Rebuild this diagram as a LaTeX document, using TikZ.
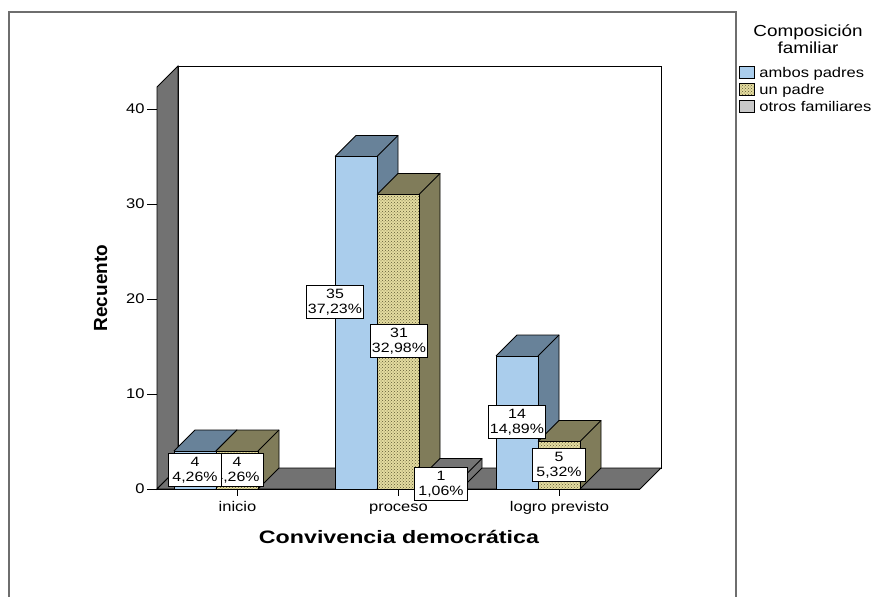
\documentclass[tikz,border=0pt]{standalone}
\usepackage{fontspec}
\setmainfont{Liberation Sans}
\newfontfamily\spss[FakeStretch=1.18]{Liberation Sans}
\newfontfamily\spsswide[FakeStretch=1.29]{Liberation Sans}
\usetikzlibrary{patterns}
\definecolor{ambosblue}{RGB}{170,205,236}
\definecolor{ambosdark}{RGB}{104,130,153}
\definecolor{unpale}{RGB}{228,220,160}
\definecolor{undots}{RGB}{96,90,52}
\definecolor{unolive}{RGB}{128,124,90}
\definecolor{otroslight}{RGB}{200,200,200}
\definecolor{otrosdark}{RGB}{116,116,116}
\definecolor{wallgray}{RGB}{114,114,114}
\definecolor{framegray}{RGB}{110,110,110}
\begin{document}
\begin{tikzpicture}
[x=1pt, y=-1pt, line width=0.9pt,
ambosfront/.style={fill=ambosblue},
ambostop/.style={fill=ambosdark},
unfront/.style={fill=unpale, postaction={pattern=crosshatch dots, pattern color=undots}},
untop/.style={fill=unolive},
otrosfront/.style={fill=otroslight},
otrostop/.style={fill=otrosdark},
wall/.style={fill=wallgray, draw=black},
ticklbl/.style={font=\spss\fontsize{14}{16}\selectfont, inner sep=1pt},
catlbl/.style={font=\spss\fontsize{14}{16}\selectfont, inner sep=0pt},
barlbl/.style={draw=black, fill=white, line width=0.7pt, align=center, inner xsep=1.5pt, inner ysep=3.5pt, minimum width=53pt, font=\spss\fontsize{13.5}{15}\selectfont},
legbox/.style={draw=black, line width=0.9pt},
leglbl/.style={font=\spss\fontsize{14}{16}\selectfont, inner sep=0pt}]

\useasboundingbox (0,0) rectangle (876,597);
\draw[framegray, line width=1.5pt] (9,597) -- (9,12) -- (736,12) -- (736,597);

% walls and floor
\filldraw[fill=white, draw=black] (178,66) rectangle (661,468);
\path[wall] (157,489) -- (157,87) -- (178,66) -- (178,468) -- cycle;
\path[wall] (157,489) -- (178,468) -- (661,468) -- (640,489) -- cycle;

% value axis
\foreach \t/\ty in {0/489,10/394,20/299,30/204,40/109} {
  \draw (147,\ty) -- (157,\ty);
  \node[ticklbl, anchor=east] (tick\t) at (146,\ty) {\t};
}

% bars
\foreach \bx/\bv/\bfront/\btop in {174/4/ambosfront/ambostop, 216/4/unfront/untop,
    335/35/ambosfront/ambostop, 377/31/unfront/untop, 419/1/otrosfront/otrostop,
    496/14/ambosfront/ambostop, 538/5/unfront/untop} {
  \pgfmathsetmacro{\ytop}{489-9.5*\bv}
  \fill[\bfront] (\bx,489) rectangle (\bx+42,\ytop);
  \fill[\btop] (\bx,\ytop) -- (\bx+21,\ytop-21) -- (\bx+63,\ytop-21) -- (\bx+42,\ytop) -- cycle;
  \fill[\btop] (\bx+42,\ytop) -- (\bx+63,\ytop-21) -- (\bx+63,468) -- (\bx+42,489) -- cycle;
  \draw (\bx,489) rectangle (\bx+42,\ytop);
  \draw (\bx,\ytop) -- (\bx+21,\ytop-21) -- (\bx+63,\ytop-21) -- (\bx+63,468) -- (\bx+42,489);
  \draw (\bx+42,\ytop) -- (\bx+63,\ytop-21);
}

% category axis
\draw (157,489) -- (640,489);
\foreach \cx/\cname/\ctext in {237.5/inicio/inicio, 398.5/proceso/proceso, 559.5/logro/logro previsto} {
  \draw (\cx,489) -- (\cx,496);
  \node[catlbl, anchor=base] (cat\cname) at (\cx,511) {\ctext};
}

% value labels
\node[barlbl] (lblinicioun) at (237,470) {4\\4,26\%};
\node[barlbl] (lblinicioambos) at (195,470) {4\\4,26\%};
\node[barlbl] (lblprocesoambos) at (335,302) {35\\37,23\%};
\node[barlbl] (lblprocesoun) at (399,341) {31\\32,98\%};
\node[barlbl] (lblprocesootros) at (441,484) {1\\1,06\%};
\node[barlbl] (lbllogroambos) at (517,422) {14\\14,89\%};
\node[barlbl] (lbllogroun) at (559,465) {5\\5,32\%};

% axis titles
\node[font=\spsswide\bfseries\fontsize{18}{20}\selectfont, anchor=base, inner sep=0pt] (xtitle) at (399,543) {Convivencia democrática};
\node[font=\bfseries\fontsize{19}{21}\selectfont, rotate=90, anchor=base, inner sep=0pt] (ytitle) at (107,288) {Recuento};

% legend
\node[font=\spss\fontsize{16}{18}\selectfont, anchor=base, inner sep=0pt] (legtitle) at (808,36) {Composición};
\node[font=\spss\fontsize{16}{18}\selectfont, anchor=base, inner sep=0pt] (legtitleb) at (808,53) {familiar};
\filldraw[legbox, ambosfront] (739,66) rectangle (754,78);
\node[leglbl, anchor=base west] (legambos) at (759,77) {ambos padres};
\filldraw[legbox, unfront] (739,83) rectangle (754,95);
\draw[legbox] (739,83) rectangle (754,95);
\node[leglbl, anchor=base west] (legun) at (759,94) {un padre};
\filldraw[legbox, otrosfront] (739,100) rectangle (754,112);
\node[leglbl, anchor=base west] (legotros) at (759,111) {otros familiares};
\end{tikzpicture}
\end{document}
